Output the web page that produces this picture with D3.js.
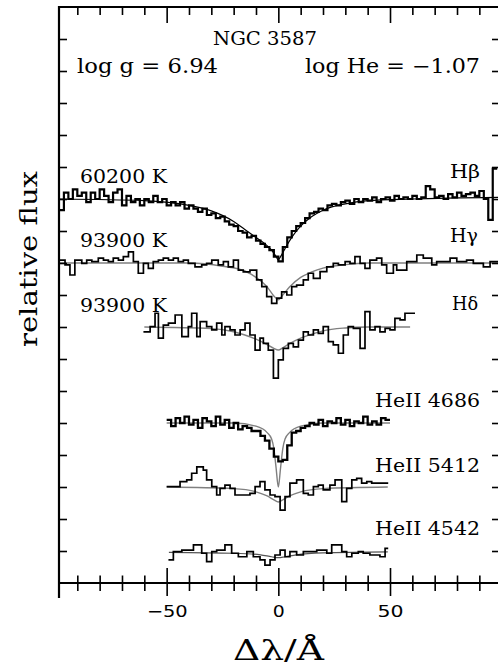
<!DOCTYPE html>
<html><head><meta charset="utf-8">
<script src="https://cdn.jsdelivr.net/npm/d3@7"></script>
<style>body{margin:0;background:#fff}svg{display:block}</style>
</head><body><svg id="c" width="498" height="668"></svg>
<script>
// ---------------- data ----------------
const xMajorTicks = [-50, 0, 50];
const xTickLabels = ["\u221250", "0", "50"];
const xMinorTicks = [-90, -80, -70, -60, -40, -30, -20, -10, 10, 20, 30, 40, 60, 70, 80, 90];
const yTicks = [0.1,0.2,0.3,0.4,0.5,0.6,0.7,0.8,0.9,1.0,1.1,1.2,1.3,1.4,1.5,1.6,1.7];

const lineNames = ["H\u03b2", "H\u03b3", "H\u03b4", "HeII 4686", "HeII 5412", "HeII 4542"];
const tempLabels = ["60200 K", "93900 K", "93900 K"];
const lineShifts = [0.2, 0.0, -0.2, -0.5, -0.7, -0.9];

// H beta observed: bins of 2 A starting at -98
const hbetaStart = -98, hbetaBin = 2;
const hbetaObs = [0.965,1.02,1.00,1.03,1.01,1.02,0.99,1.02,1.00,1.03,1.01,0.99,1.02,1.03,0.98,1.01,0.99,1.00,0.98,1.00,
  0.99,1.01,0.99,1.00,0.98,0.99,0.98,0.99,0.97,0.98,0.97,0.96,0.97,0.95,0.955,0.94,0.945,0.93,0.92,0.915,
  0.90,0.895,0.88,0.885,0.87,0.86,0.85,0.84,0.82,0.805,0.85,0.88,0.90,0.915,0.925,0.94,0.955,0.96,0.97,0.965,
  0.98,0.985,0.98,0.99,0.995,0.985,1.00,0.99,1.00,0.995,1.005,0.99,1.00,1.005,0.995,1.01,1.00,1.005,1.00,1.01,
  1.00,1.005,1.04,1.03,1.005,1.01,1.00,1.015,1.005,1.02,1.01,1.015,1.02,1.01,1.025,1.00,0.935,1.095];
const hbetaModel = [[-98,1.0],[-60,0.995],[-40,0.98],[-30,0.963],[-20,0.93],[-15,0.905],[-10,0.88],[-6,0.86],[-3,0.84],[-1,0.82],[0,0.81],
  [1,0.82],[3,0.845],[6,0.88],[10,0.915],[15,0.945],[20,0.965],[30,0.985],[40,0.995],[60,1.0],[98.8,1.005]];

// H gamma observed: [bin start, flux]
const hgammaObs = [[-98.2,1.009],[-95.5,0.994],[-93.3,0.9625],[-91.1,1.009],[-88.0,0.999],[-85.8,1.009],[-83.5,1.004],[-80.6,1.015],
  [-78.3,1.009],[-76.1,1.004],[-73.9,1.015],[-71.6,1.009],[-69.4,1.02],[-67.1,1.035],[-64.9,1.004],[-62.7,0.968],[-60.4,0.999],
  [-58.2,0.983],[-56.0,1.004],[-53.7,1.009],[-51.5,1.015],[-49.2,1.009],[-47.0,1.015],[-44.8,1.004],[-42.5,1.009],[-40.3,0.999],
  [-37.3,0.988],[-34.3,0.994],[-32.1,0.999],[-29.8,1.009],[-26.9,0.994],[-24.6,1.004],[-22.4,0.988],[-20.1,1.009],[-17.9,0.978],
  [-15.7,0.972],[-12.7,0.978],[-9.7,0.947],[-7.4,0.926],[-5.2,0.895],[-3.0,0.874],[-0.7,0.89],[1.5,0.91],[3.8,0.90],[6.0,0.926],
  [8.2,0.931],[11.2,0.947],[13.4,0.968],[15.7,0.952],[18.7,0.973],[21.7,0.988],[24.6,0.999],[26.9,0.994],[29.9,1.004],[32.1,0.999],
  [34.3,1.02],[36.6,0.999],[38.8,0.983],[41.0,1.009],[44.0,1.015],[46.3,0.994],[48.5,0.968],[51.5,0.994],[53.0,0.978],[57.5,1.004],
  [62.0,1.025],[64.9,1.015],[68.7,0.994],[70.9,1.004],[76.9,1.015],[79.9,1.004],[84.3,1.009],[87.3,0.999],[91.8,0.988],[94.8,1.004],
  [98.8,1.004]];
const hgammaModel = [[-98.2,1.0],[-40,1.0],[-25,0.99],[-15,0.975],[-10,0.955],[-5,0.925],[-2,0.897],[0,0.885],[2,0.9],[5,0.925],
  [10,0.955],[15,0.972],[20,0.984],[30,0.995],[40,1.0],[98.8,1.0]];

// H delta observed
const hdeltaObs = [[-60.4,0.985],[-57.4,1.001],[-55.2,1.043],[-53.7,0.965],[-51.5,1.006],[-49.2,1.012],[-46.2,1.0375],[-43.2,0.97],
  [-40.3,1.001],[-38.8,1.043],[-36.5,0.97],[-35.0,1.017],[-32.1,1.001],[-29.8,0.991],[-27.6,1.012],[-25.3,0.975],[-23.9,1.001],
  [-21.6,0.991],[-19.4,0.975],[-17.1,0.991],[-14.9,1.012],[-12.7,0.975],[-10.4,0.928],[-8.2,0.965],[-6.7,0.949],[-4.5,0.928],
  [-2.2,0.84],[0.0,0.897],[2.2,0.933],[4.5,0.949],[6.7,0.938],[9.0,0.959],[11.2,0.985],[13.4,0.975],[15.7,0.991],[17.9,0.98],
  [20.1,1.001],[22.4,0.954],[24.6,0.944],[26.9,0.918],[29.1,0.975],[31.3,1.001],[33.6,0.996],[36.6,0.933],[38.8,1.048],[41.0,0.991],
  [43.3,1.001],[45.5,0.985],[47.8,0.996],[50.0,0.991],[52.2,1.027],[54.5,1.022],[56.7,1.043],[58.9,1.043],[61.2,1.043]];
const hdeltaModel = [[-60,1.0],[-30,0.995],[-20,0.985],[-15,0.975],[-10,0.962],[-5,0.945],[-2,0.933],[0,0.928],[2,0.935],[5,0.948],
  [10,0.965],[15,0.978],[20,0.988],[30,0.997],[40,1.0],[59,1.0]];

// He II 4686 observed: bins of 2 A starting at -50
const he4686Start = -50, he4686Bin = 2;
const he4686Obs = [1.01,0.99,1.015,1.0,1.02,0.995,1.01,0.985,1.015,1.005,0.99,1.02,0.995,1.01,0.985,1.0,0.98,0.99,0.985,0.975,
  0.975,0.96,0.945,0.92,0.895,0.88,0.885,0.93,0.97,0.975,0.985,0.99,1.0,0.995,1.01,0.99,1.005,1.0,1.015,0.995,
  1.01,0.99,1.005,1.0,1.02,0.995,1.005,0.995,1.015,1.01];
const he4686Model = [[-50,1.0],[-20,1.0],[-10,0.99],[-5,0.97],[-3,0.95],[-2,0.92],[-1,0.86],[0,0.80],[1,0.86],[2,0.92],[3,0.95],
  [5,0.97],[10,0.99],[20,1.0],[50,1.0]];

// He II 5412 observed
const he5412Obs = [[-50.0,1.001],[-44.0,1.017],[-41.0,1.022],[-38.8,1.043],[-36.5,1.063],[-33.6,1.053],[-32.1,1.022],[-29.8,1.001],
  [-27.6,0.975],[-26.1,0.996],[-23.9,1.006],[-21.6,0.996],[-19.4,0.975],[-12.7,0.98],[-10.4,1.001],[-8.2,1.017],[-6.0,0.991],
  [-3.7,0.975],[-1.5,0.97],[0.8,0.928],[3.0,0.97],[5.2,1.012],[8.2,1.022],[11.2,0.98],[13.4,0.975],[15.7,1.001],[17.9,1.006],
  [20.1,0.991],[23.1,1.006],[25.4,1.022],[28.4,0.954],[30.6,0.996],[32.9,1.022],[35.1,1.027],[37.3,1.012],[39.6,1.017],[41.8,1.012],
  [49.2,1.012]];
const he5412Model = [[-50,1.0],[-20,0.995],[-10,0.985],[-5,0.972],[-2,0.96],[0,0.953],[2,0.96],[5,0.972],[10,0.985],[20,0.995],[49,1.0]];

// He II 4542 observed
const he4542Obs = [[-49.2,0.972],[-47.0,0.998],[-43.2,1.003],[-38.0,1.019],[-34.3,0.993],[-32.1,0.967],[-29.8,0.998],[-27.6,1.003],
  [-23.9,1.019],[-20.9,0.993],[-17.9,0.982],[-14.1,0.998],[-11.2,0.982],[-8.2,0.972],[-6.0,0.956],[-3.7,0.972],[-1.5,0.9875],
  [0.8,1.003],[3.0,0.982],[5.2,0.998],[8.2,0.9875],[11.2,0.998],[17.2,1.003],[21.7,0.993],[23.9,1.019],[28.4,0.998],[30.6,0.982],
  [32.9,0.993],[35.8,0.998],[38.0,0.993],[41.0,0.9875],[45.5,0.982],[47.8,1.008],[49.2,1.008]];
const he4542Model = [[-49,0.996],[-20,0.993],[-8,0.988],[-3,0.982],[0,0.979],[3,0.982],[8,0.988],[20,0.994],[49,0.997]];

// ---------------- drawing ----------------
const svg = d3.select("#c");
const x = d3.scaleLinear().domain([-98.2, 98.8]).range([59, 499]);
const y = d3.scaleLinear().domain([0, 1.8]).range([583, 7]);

const toPairs = (start, bin, vals) => {
  const p = vals.map((v, i) => [start + i * bin, v]);
  p.push([start + vals.length * bin, vals[vals.length - 1]]);
  return p;
};

const spectra = [
  {obs: toPairs(hbetaStart, hbetaBin, hbetaObs), model: hbetaModel, sw: 2.2, mc: "#000", mw: 1.2},
  {obs: hgammaObs, model: hgammaModel, sw: 1.7, mc: "#808080", mw: 1.4},
  {obs: hdeltaObs, model: hdeltaModel, sw: 1.7, mc: "#808080", mw: 1.4},
  {obs: toPairs(he4686Start, he4686Bin, he4686Obs), model: he4686Model, sw: 2.3, mc: "#808080", mw: 1.4},
  {obs: he5412Obs, model: he5412Model, sw: 1.7, mc: "#808080", mw: 1.4},
  {obs: he4542Obs, model: he4542Model, sw: 1.7, mc: "#555", mw: 1.2}
];

spectra.forEach((s, i) => {
  const sh = lineShifts[i];
  const step = d3.line().x(d => x(d[0])).y(d => y(d[1] + sh)).curve(d3.curveStepAfter);
  const smooth = d3.line().x(d => x(d[0])).y(d => y(d[1] + sh)).curve(d3.curveMonotoneX);
  svg.append("path").attr("d", smooth(s.model)).attr("fill", "none")
    .attr("stroke", s.mc).attr("stroke-width", s.mw);
  svg.append("path").attr("d", step(s.obs)).attr("fill", "none")
    .attr("stroke", "#000").attr("stroke-width", s.sw).attr("stroke-linejoin", "miter");
});

// axes
const ax = (g, axis) => { g.call(axis); g.select(".domain").remove(); g.selectAll("line").attr("stroke", "#000").attr("stroke-width", 1.6); return g; };

// bottom minor & major (crossing the axis line)
ax(svg.append("g").attr("transform", "translate(0,583)"),
   d3.axisBottom(x).tickValues(xMinorTicks).tickFormat("").tickSize(8))
  .selectAll("line").attr("y1", -7.5).attr("y2", 8);
const bMaj = ax(svg.append("g").attr("transform", "translate(0,583)"),
   d3.axisBottom(x).tickValues(xMajorTicks).tickFormat((d, i) => xTickLabels[i]).tickSize(12));
bMaj.selectAll("line").attr("y1", -15).attr("y2", 13);
bMaj.selectAll("text").attr("y", 34).attr("dy", 0)
  .attr("font-family", "DejaVu Sans").attr("font-size", 16).attr("fill", "#000")
  .attr("textLength", (d, i) => [41, 12, 26][i]).attr("lengthAdjust", "spacingAndGlyphs");

// top ticks (pointing down)
ax(svg.append("g").attr("transform", "translate(0,7)"),
   d3.axisBottom(x).tickValues(xMinorTicks).tickFormat("").tickSize(8));
ax(svg.append("g").attr("transform", "translate(0,7)"),
   d3.axisBottom(x).tickValues(xMajorTicks).tickFormat("").tickSize(16));

// left & right ticks (inward)
ax(svg.append("g").attr("transform", "translate(59,0)"),
   d3.axisRight(y).tickValues(yTicks).tickFormat("").tickSize(8));
ax(svg.append("g").attr("transform", "translate(500,0)"),
   d3.axisLeft(y).tickValues(yTicks).tickFormat("").tickSize(8));

// frame lines
const fr = svg.append("g").attr("stroke", "#000").attr("stroke-width", 2.2);
fr.append("line").attr("x1", 59).attr("x2", 59).attr("y1", 6).attr("y2", 598);
fr.append("line").attr("x1", 58).attr("x2", 499).attr("y1", 7).attr("y2", 7);
fr.append("line").attr("x1", 58).attr("x2", 499).attr("y1", 583).attr("y2", 583);

// texts
const txt = (s, xx, yy, w, size, anchor, fam) => svg.append("text").text(s)
  .attr("x", xx).attr("y", yy).attr("font-family", fam || "DejaVu Serif").attr("font-size", size)
  .attr("text-anchor", anchor || "start").attr("fill", "#000")
  .attr("textLength", w).attr("lengthAdjust", "spacingAndGlyphs");

txt("NGC 3587", 213, 45, 104, 19);
txt("log g = 6.94", 77, 73, 141, 20);
txt("log He = \u22121.07", 305, 73, 175, 20);

txt(tempLabels[0], 80, 183, 87, 19);
txt(tempLabels[1], 80, 247, 87, 19);
txt(tempLabels[2], 80, 312, 87, 19);

txt(lineNames[0], 450, 178, 30, 19);
txt(lineNames[1], 450, 242, 28, 19);
txt(lineNames[2], 452, 310, 26, 19);
txt(lineNames[3], 375, 407, 105, 19);
txt(lineNames[4], 375, 472, 105, 19);
txt(lineNames[5], 375, 535, 105, 19);

// axis titles
txt("\u0394\u03bb/\u00c5", 233, 660, 91, 27);
svg.append("text").text("relative flux")
  .attr("transform", "translate(37,347) rotate(-90)")
  .attr("font-family", "DejaVu Serif").attr("font-size", 25).attr("fill", "#000")
  .attr("textLength", 176).attr("lengthAdjust", "spacingAndGlyphs");
</script>
</body></html>
